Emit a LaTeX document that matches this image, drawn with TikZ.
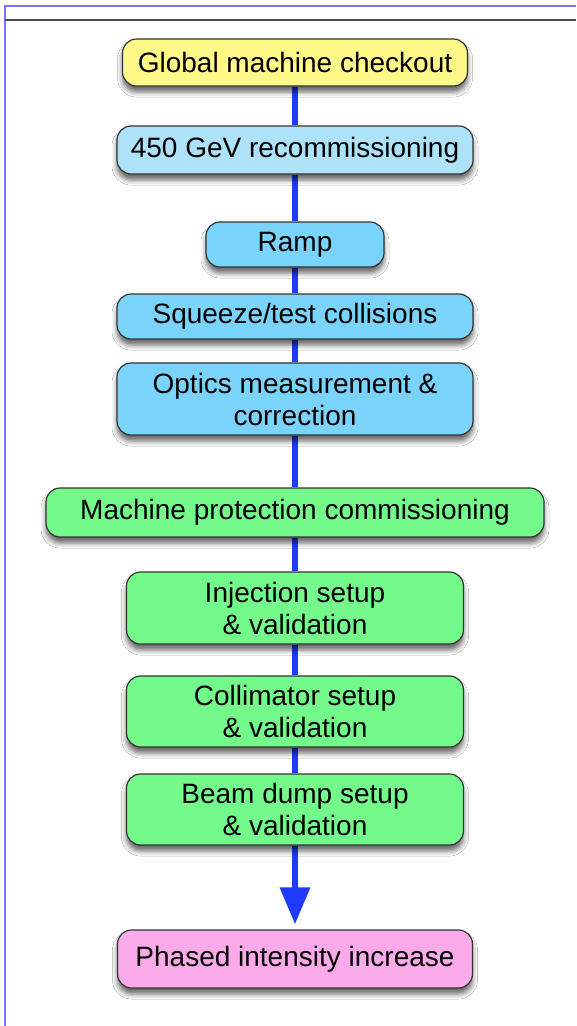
\documentclass[tikz,border=0pt]{standalone}
\usepackage{fontspec}
\setmainfont{Liberation Sans}
\usetikzlibrary{arrows.meta,shadows.blur,backgrounds}
\definecolor{cyel}{HTML}{FFF98A}
\definecolor{clblue}{HTML}{ADE2F8}
\definecolor{cblue}{HTML}{7AD3FA}
\definecolor{cgreen}{HTML}{74F98B}
\definecolor{cpink}{HTML}{FAAAE8}
\definecolor{cline}{HTML}{1F3BFF}
\definecolor{cframe}{HTML}{7777FF}
\tikzset{
  box/.style={draw=black!80, line width=1.2pt, rounded corners=14pt, align=center,
    font=\fontsize{28}{32}\selectfont, inner sep=0pt,
    blur shadow={shadow xshift=0pt, shadow yshift=-6pt, shadow blur radius=5pt, shadow opacity=60}},
  conn/.style={cline, line width=6.5pt},
}
\begin{document}
\begin{tikzpicture}[x=1pt,y=-1pt]
\useasboundingbox (0,0) rectangle (576,1026);

\node[box, fill=cyel, minimum width=345pt, minimum height=47pt] (n1) at (295,62.5) {Global machine checkout};
\node[box, fill=clblue, minimum width=356pt, minimum height=48pt] (n2) at (295,150) {450 GeV recommissioning};
\node[box, fill=cblue, minimum width=178pt, minimum height=45pt] (n3) at (295,244.5) {Ramp};
\node[box, fill=cblue, minimum width=356pt, minimum height=45pt] (n4) at (295,316.5) {Squeeze/test collisions};
\node[box, fill=cblue, minimum width=356pt, minimum height=72pt] (n5) at (295,399) {Optics measurement \&\\correction};
\node[box, fill=cgreen, minimum width=498pt, minimum height=49pt] (n6) at (295,512.5) {Machine protection commissioning};
\node[box, fill=cgreen, minimum width=337pt, minimum height=72pt] (n7) at (295,608) {Injection setup\\\& validation};
\node[box, fill=cgreen, minimum width=337pt, minimum height=71pt] (n8) at (295,711.5) {Collimator setup\\\& validation};
\node[box, fill=cgreen, minimum width=337pt, minimum height=71pt] (n9) at (295,809.5) {Beam dump setup\\\& validation};
\node[box, fill=cpink, minimum width=355pt, minimum height=58pt] (n10) at (295,959) {Phased intensity increase};

\begin{pgfonlayer}{background}
\fill[white] (0,0) rectangle (576,1026);
\draw[cframe, line width=1.5pt] (5,1026) -- (5,6) -- (576,6);
\draw[black!70, line width=2pt] (5,20) -- (576,20);
\draw[conn] (n1.south) -- (n2.north);
\draw[conn] (n2.south) -- (n3.north);
\draw[conn] (n3.south) -- (n4.north);
\draw[conn] (n4.south) -- (n5.north);
\draw[conn] (n5.south) -- (n6.north);
\draw[conn] (n6.south) -- (n7.north);
\draw[conn] (n7.south) -- (n8.north);
\draw[conn] (n8.south) -- (n9.north);
\draw[conn, -{Triangle[length=37pt,width=29pt]}, shorten >=5pt] (n9.south) -- (n10.north);
\end{pgfonlayer}
\end{tikzpicture}
\end{document}
